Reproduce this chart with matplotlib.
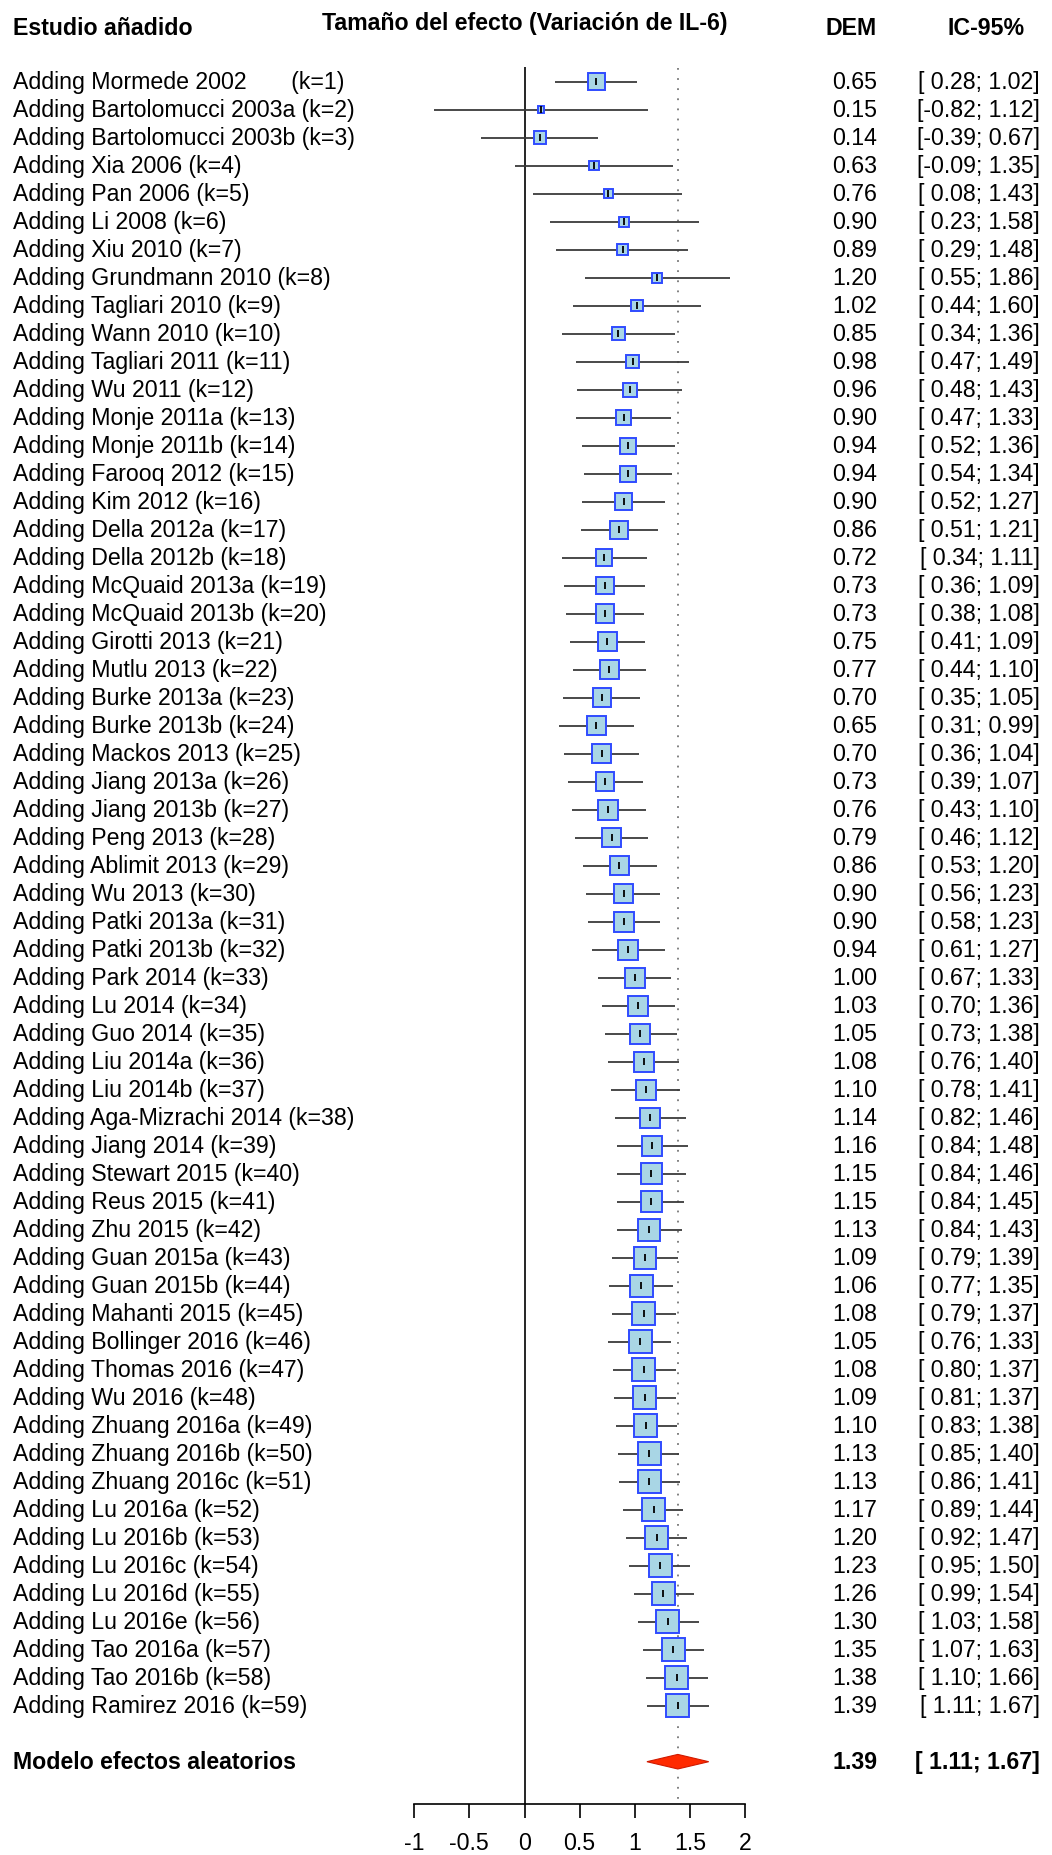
import matplotlib
matplotlib.use("Agg")
import matplotlib.pyplot as plt
import matplotlib.transforms as mtransforms
from matplotlib.patches import Rectangle, Polygon

plt.rcParams["font.family"] = ["Liberation Sans", "DejaVu Sans"]

# cumulative meta-analysis, one study added per row
studies = [
    "Mormede 2002", "Bartolomucci 2003a", "Bartolomucci 2003b", "Xia 2006", "Pan 2006",
    "Li 2008", "Xiu 2010", "Grundmann 2010", "Tagliari 2010", "Wann 2010",
    "Tagliari 2011", "Wu 2011", "Monje 2011a", "Monje 2011b", "Farooq 2012",
    "Kim 2012", "Della 2012a", "Della 2012b", "McQuaid 2013a", "McQuaid 2013b",
    "Girotti 2013", "Mutlu 2013", "Burke 2013a", "Burke 2013b", "Mackos 2013",
    "Jiang 2013a", "Jiang 2013b", "Peng 2013", "Ablimit 2013", "Wu 2013",
    "Patki 2013a", "Patki 2013b", "Park 2014", "Lu 2014", "Guo 2014",
    "Liu 2014a", "Liu 2014b", "Aga-Mizrachi 2014", "Jiang 2014", "Stewart 2015",
    "Reus 2015", "Zhu 2015", "Guan 2015a", "Guan 2015b", "Mahanti 2015",
    "Bollinger 2016", "Thomas 2016", "Wu 2016", "Zhuang 2016a", "Zhuang 2016b",
    "Zhuang 2016c", "Lu 2016a", "Lu 2016b", "Lu 2016c", "Lu 2016d",
    "Lu 2016e", "Tao 2016a", "Tao 2016b", "Ramirez 2016",
]
smd = [
    0.65, 0.15, 0.14, 0.63, 0.76, 0.90, 0.89, 1.20, 1.02, 0.85,
    0.98, 0.96, 0.90, 0.94, 0.94, 0.90, 0.86, 0.72, 0.73, 0.73,
    0.75, 0.77, 0.70, 0.65, 0.70, 0.73, 0.76, 0.79, 0.86, 0.90,
    0.90, 0.94, 1.00, 1.03, 1.05, 1.08, 1.10, 1.14, 1.16, 1.15,
    1.15, 1.13, 1.09, 1.06, 1.08, 1.05, 1.08, 1.09, 1.10, 1.13,
    1.13, 1.17, 1.20, 1.23, 1.26, 1.30, 1.35, 1.38, 1.39,
]
ci_low = [
    0.28, -0.82, -0.39, -0.09, 0.08, 0.23, 0.29, 0.55, 0.44, 0.34,
    0.47, 0.48, 0.47, 0.52, 0.54, 0.52, 0.51, 0.34, 0.36, 0.38,
    0.41, 0.44, 0.35, 0.31, 0.36, 0.39, 0.43, 0.46, 0.53, 0.56,
    0.58, 0.61, 0.67, 0.70, 0.73, 0.76, 0.78, 0.82, 0.84, 0.84,
    0.84, 0.84, 0.79, 0.77, 0.79, 0.76, 0.80, 0.81, 0.83, 0.85,
    0.86, 0.89, 0.92, 0.95, 0.99, 1.03, 1.07, 1.10, 1.11,
]
ci_high = [
    1.02, 1.12, 0.67, 1.35, 1.43, 1.58, 1.48, 1.86, 1.60, 1.36,
    1.49, 1.43, 1.33, 1.36, 1.34, 1.27, 1.21, 1.11, 1.09, 1.08,
    1.09, 1.10, 1.05, 0.99, 1.04, 1.07, 1.10, 1.12, 1.20, 1.23,
    1.23, 1.27, 1.33, 1.36, 1.38, 1.40, 1.41, 1.46, 1.48, 1.46,
    1.45, 1.43, 1.39, 1.35, 1.37, 1.33, 1.37, 1.37, 1.38, 1.40,
    1.41, 1.44, 1.47, 1.50, 1.54, 1.58, 1.63, 1.66, 1.67,
]
# relative box size (precision), 1 = largest box
box_rel = [
    0.73, 0.30, 0.55, 0.40, 0.40, 0.42, 0.48, 0.42, 0.49, 0.55,
    0.57, 0.60, 0.64, 0.70, 0.70, 0.74, 0.78, 0.73, 0.75, 0.80,
    0.84, 0.83, 0.80, 0.81, 0.83, 0.81, 0.86, 0.84, 0.83, 0.84,
    0.86, 0.87, 0.86, 0.87, 0.86, 0.88, 0.86, 0.86, 0.87, 0.90,
    0.91, 0.94, 0.94, 0.97, 0.99, 0.99, 0.99, 1.00, 1.00, 1.00,
    1.00, 1.00, 1.00, 1.00, 1.00, 1.00, 1.00, 1.00, 1.00,
]
pooled = 1.39
pooled_low = 1.11
pooled_high = 1.67
x_ticks = [-1, -0.5, 0, 0.5, 1, 1.5, 2]
x_tick_labels = ["-1", "-0.5", "0", "0.5", "1", "1.5", "2"]

FS = 16.7
n = len(studies)
summary_row = n + 2
axis_row = n + 3.5

fig = plt.figure(figsize=(10.52, 18.56), dpi=100)
ax = fig.add_axes([0, 0, 1, 1])
# 110.3 px per effect unit, zero at x=524.5 px; 28 px per row, row 1 at y=82.7 px
ax.set_xlim(-524.5 / 110.3, (1052 - 524.5) / 110.3)
ax.set_ylim(1 + (1856 - 82.7) / 28, 1 - 82.7 / 28)

for side in ("top", "left", "right"):
    ax.spines[side].set_visible(False)
ax.spines["bottom"].set_position(("data", axis_row))
ax.spines["bottom"].set_bounds(x_ticks[0], x_ticks[-1])
ax.spines["bottom"].set_linewidth(1.2)
ax.set_xticks(x_ticks)
ax.set_xticklabels(x_tick_labels, fontsize=FS)
ax.tick_params(axis="x", direction="out", length=10, width=1.2, pad=10)
ax.set_yticks([])

# px -> data conversion for square boxes
px_x = 1.0 / 110.3
px_y = 1.0 / 28
box_px = 23

# reference lines
ax.vlines(0, 0.48, axis_row, color="black", linewidth=1.2, zorder=1)
ax.vlines(pooled, 0.5, axis_row, color="#777777", linewidth=1.3,
          linestyles=[(0, (1.0, 4.6))], zorder=1)

rows = list(range(1, n + 1))
ax.hlines(rows, ci_low, ci_high, color="#3a3a3a", linewidth=1.3, zorder=2)

for r, est, rel in zip(rows, smd, box_rel):
    w = box_px * rel * px_x
    h = box_px * rel * px_y
    ax.add_patch(Rectangle((est - w / 2, r - h / 2), w, h,
                           facecolor="#a9d6e5", edgecolor="#2f4bff",
                           linewidth=1.4, zorder=3))
    ax.vlines(est, r - 0.13, r + 0.13, color="black", linewidth=1.3, zorder=4)

diamond_h = 0.26
ax.add_patch(Polygon([(pooled_low, summary_row), (pooled, summary_row - diamond_h),
                      (pooled_high, summary_row), (pooled, summary_row + diamond_h)],
                     closed=True, facecolor="#ff2a00", edgecolor="#d01a00",
                     linewidth=0.8, zorder=3))

# text columns: x in figure fraction, y in rows
tr = mtransforms.blended_transform_factory(ax.transAxes, ax.transData)
x_lab = 12.7 / 1052
x_dem = 877 / 1052
x_ci = 1040 / 1052
x_ci_head = 986 / 1052

header_row = -0.95
ax.text(x_lab, header_row, "Estudio añadido", transform=tr, fontsize=FS,
        fontweight="bold", ha="left", va="center")
ax.text(0, header_row - 0.15, "Tamaño del efecto (Variación de IL-6)", fontsize=FS,
        fontweight="bold", ha="center", va="center")
ax.text(x_dem, header_row, "DEM", transform=tr, fontsize=FS,
        fontweight="bold", ha="right", va="center")
ax.text(x_ci_head, header_row, "IC-95%", transform=tr, fontsize=FS,
        fontweight="bold", ha="center", va="center")

for k, (name, est, lo, hi) in enumerate(zip(studies, smd, ci_low, ci_high), start=1):
    if k == 1:
        label = f"Adding {name}       (k={k})"
    else:
        label = f"Adding {name} (k={k})"
    ax.text(x_lab, k, label, transform=tr, fontsize=FS, ha="left", va="center")
    ax.text(x_dem, k, f"{est:.2f}", transform=tr, fontsize=FS, ha="right", va="center")
    ax.text(x_ci, k, f"[{lo:5.2f}; {hi:.2f}]", transform=tr, fontsize=FS,
            ha="right", va="center")

ax.text(x_lab, summary_row, "Modelo efectos aleatorios", transform=tr, fontsize=FS,
        fontweight="bold", ha="left", va="center")
ax.text(x_dem, summary_row, f"{pooled:.2f}", transform=tr, fontsize=FS,
        fontweight="bold", ha="right", va="center")
ax.text(x_ci, summary_row, f"[{pooled_low:5.2f}; {pooled_high:.2f}]", transform=tr,
        fontsize=FS, fontweight="bold", ha="right", va="center")

fig.savefig("out.png", dpi=100)
plt.close(fig)
